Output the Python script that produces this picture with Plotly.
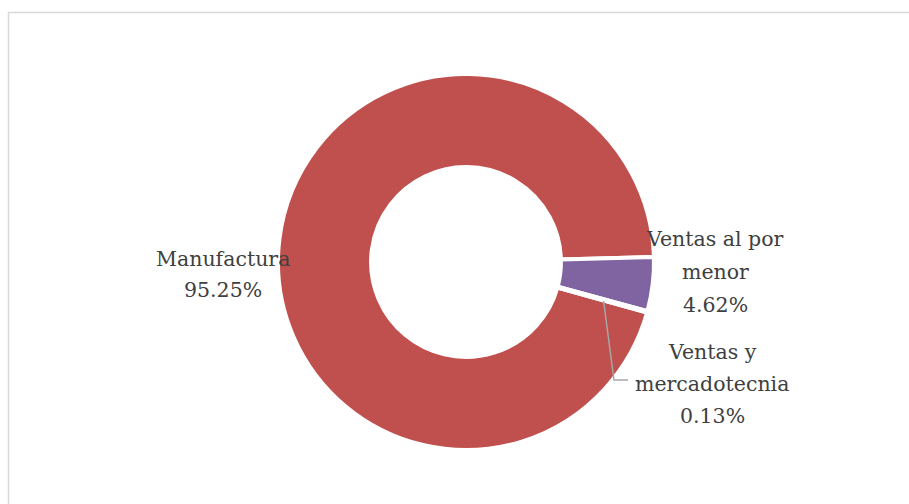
import math
import plotly.graph_objects as go

# Data
categories = ["Manufactura", "Ventas al por menor", "Ventas y mercadotecnia"]
label_lines = [["Manufactura"], ["Ventas al por", "menor"], ["Ventas y", "mercadotecnia"]]
shares = [95.25, 4.62, 0.13]
colors = ["#C0504D", "#8064A2", "#9BBB59"]

W, H = 909, 504
CX, CY, R = 466, 262, 188
ROTATION = 105.6  # first slice start, degrees clockwise from 12 o'clock


def px(x):
    return x / W


def py(y):
    return 1 - y / H


fig = go.Figure(
    go.Pie(
        labels=categories,
        values=shares,
        sort=False,
        direction="clockwise",
        rotation=ROTATION,
        hole=0.505,
        marker=dict(colors=colors, line=dict(color="white", width=4)),
        textinfo="none",
        showlegend=False,
        domain=dict(x=[px(CX - R), px(CX + R)], y=[py(CY + R), py(CY - R)]),
    )
)

font = dict(family="DejaVu Serif, Liberation Serif, serif", size=20.5, color="#404040")

# Label blocks: centre x and the baseline of each line
label_x = [223, 715, 712]
label_baselines = [[266, 297], [246, 279, 312], [359, 391, 423]]
for lines, val, lx, bases in zip(label_lines, shares, label_x, label_baselines):
    for line, base in zip(lines + [f"{val:.2f}%"], bases):
        fig.add_annotation(
            x=px(lx), y=py(base - 7), xref="paper", yref="paper", text=line,
            showarrow=False, xanchor="center", yanchor="middle", font=font,
        )

# Leader line from the thin slice to its label
total = sum(shares)
start = ROTATION - 360 * (shares[0] + shares[1]) / total
mid = start - 360 * shares[2] / total / 2
rl = 143
sx = CX + rl * math.sin(math.radians(mid))
sy = CY - rl * math.cos(math.radians(mid))
fig.add_shape(
    type="path", xref="paper", yref="paper",
    path=f"M {px(sx)} {py(sy)} L {px(614)} {py(380)} L {px(628)} {py(380)}",
    line=dict(color="#A6A6A6", width=1.5),
)

# Chart area frame
fig.add_shape(
    type="rect", xref="paper", yref="paper",
    x0=px(8.5), x1=px(W + 10), y0=py(H + 10), y1=py(12.5),
    line=dict(color="#D9D9D9", width=1.5), fillcolor="rgba(0,0,0,0)",
)

fig.update_layout(
    width=W, height=H,
    margin=dict(l=0, r=0, t=0, b=0),
    paper_bgcolor="white", plot_bgcolor="white",
)

fig.write_html("out.html")
